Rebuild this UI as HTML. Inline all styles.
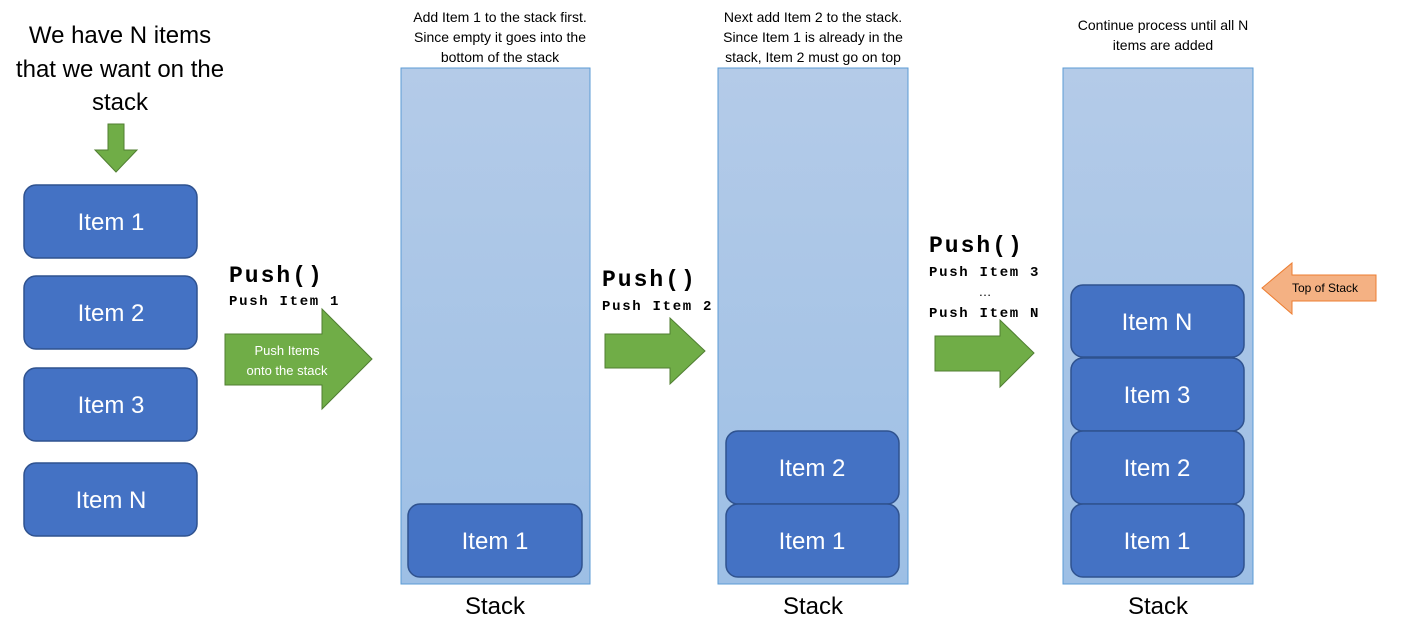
<!DOCTYPE html>
<html><head><meta charset="utf-8"><style>
html,body{margin:0;padding:0;background:#fff;width:1425px;height:639px;overflow:hidden}
svg{display:block}
.t{font-family:"Liberation Sans",sans-serif}
.m{font-family:"Liberation Mono",monospace;font-weight:bold}
.big{letter-spacing:2px}
.sm{letter-spacing:1.7px}
</style></head><body>
<svg width="1425" height="639" viewBox="0 0 1425 639" xmlns="http://www.w3.org/2000/svg">
<defs>
<linearGradient id="sg" x1="0" y1="0" x2="0" y2="1"><stop offset="0" stop-color="#b4cbe8"/><stop offset="1" stop-color="#9dbfe5"/></linearGradient>
</defs>
<g class="t" font-size="24" fill="#000" text-anchor="middle">
<text x="120" y="43">We have N items</text>
<text x="120" y="77">that we want on the</text>
<text x="120" y="110">stack</text>
</g>
<path d="M108,124 H124 V150 H137 L116,172 L95,150 H108 Z" fill="#70ad47" stroke="#507e32"/>
<g>
<g><rect x="24" y="185" width="173" height="73" rx="12" fill="#4472c4" stroke="#2f528f" stroke-width="1.5"/><text class="t" x="111" y="230" font-size="24" fill="#fff" text-anchor="middle">Item 1</text></g>
<g><rect x="24" y="276" width="173" height="73" rx="12" fill="#4472c4" stroke="#2f528f" stroke-width="1.5"/><text class="t" x="111" y="321" font-size="24" fill="#fff" text-anchor="middle">Item 2</text></g>
<g><rect x="24" y="368" width="173" height="73" rx="12" fill="#4472c4" stroke="#2f528f" stroke-width="1.5"/><text class="t" x="111" y="413" font-size="24" fill="#fff" text-anchor="middle">Item 3</text></g>
<g><rect x="24" y="463" width="173" height="73" rx="12" fill="#4472c4" stroke="#2f528f" stroke-width="1.5"/><text class="t" x="111" y="508" font-size="24" fill="#fff" text-anchor="middle">Item N</text></g>
</g>
<g><text class="m big" x="229" y="282" font-size="23">Push()</text><text class="m sm" x="229" y="305" font-size="14">Push Item 1</text></g>
<g><path d="M225,334 H322 V309 L372,359 L322,409 V385 H225 Z" fill="#70ad47" stroke="#507e32"/>
<text class="t" x="287" y="355" font-size="13" fill="#fff" text-anchor="middle">Push Items</text><text class="t" x="287" y="375" font-size="13" fill="#fff" text-anchor="middle">onto the stack</text></g>
<g class="t" font-size="14" text-anchor="middle"><text x="500" y="22">Add Item 1 to the stack first.</text><text x="500" y="42">Since empty it goes into the</text><text x="500" y="62">bottom of the stack</text></g>
<g><rect x="401" y="68" width="189" height="516" fill="url(#sg)" stroke="#5b9bd5"/>
<g><rect x="408" y="504" width="174" height="73" rx="12" fill="#4472c4" stroke="#2f528f" stroke-width="1.5"/><text class="t" x="495" y="549" font-size="24" fill="#fff" text-anchor="middle">Item 1</text></g>
<text class="t" x="495" y="614" font-size="24" text-anchor="middle">Stack</text></g>
<g><text class="m big" x="602" y="286" font-size="23">Push()</text><text class="m sm" x="602" y="310" font-size="14">Push Item 2</text></g>
<path d="M605,334 H670 V318 L705,351 L670,384 V368 H605 Z" fill="#70ad47" stroke="#507e32"/>
<g class="t" font-size="14" text-anchor="middle"><text x="813" y="22">Next add Item 2 to the stack.</text><text x="813" y="42">Since Item 1 is already in the</text><text x="813" y="62">stack, Item 2 must go on top</text></g>
<g><rect x="718" y="68" width="190" height="516" fill="url(#sg)" stroke="#5b9bd5"/>
<g><rect x="726" y="431" width="173" height="73" rx="12" fill="#4472c4" stroke="#2f528f" stroke-width="1.5"/><text class="t" x="812" y="476" font-size="24" fill="#fff" text-anchor="middle">Item 2</text></g>
<g><rect x="726" y="504" width="173" height="73" rx="12" fill="#4472c4" stroke="#2f528f" stroke-width="1.5"/><text class="t" x="812" y="549" font-size="24" fill="#fff" text-anchor="middle">Item 1</text></g>
<text class="t" x="813" y="614" font-size="24" text-anchor="middle">Stack</text></g>
<g><text class="m big" x="929" y="252" font-size="23">Push()</text><text class="m sm" x="929" y="276" font-size="14">Push Item 3</text>
<text class="t" x="985" y="296" font-size="13" text-anchor="middle">…</text><text class="m sm" x="929" y="317" font-size="14">Push Item N</text></g>
<path d="M935,336 H1000 V320 L1034,353 L1000,387 V371 H935 Z" fill="#70ad47" stroke="#507e32"/>
<g class="t" font-size="14" text-anchor="middle"><text x="1163" y="30">Continue process until all N</text><text x="1163" y="50">items are added</text></g>
<g><rect x="1063" y="68" width="190" height="516" fill="url(#sg)" stroke="#5b9bd5"/>
<g><rect x="1071" y="285" width="173" height="72" rx="12" fill="#4472c4" stroke="#2f528f" stroke-width="1.5"/><text class="t" x="1157" y="330" font-size="24" fill="#fff" text-anchor="middle">Item N</text></g>
<g><rect x="1071" y="358" width="173" height="73" rx="12" fill="#4472c4" stroke="#2f528f" stroke-width="1.5"/><text class="t" x="1157" y="403" font-size="24" fill="#fff" text-anchor="middle">Item 3</text></g>
<g><rect x="1071" y="431" width="173" height="73" rx="12" fill="#4472c4" stroke="#2f528f" stroke-width="1.5"/><text class="t" x="1157" y="476" font-size="24" fill="#fff" text-anchor="middle">Item 2</text></g>
<g><rect x="1071" y="504" width="173" height="73" rx="12" fill="#4472c4" stroke="#2f528f" stroke-width="1.5"/><text class="t" x="1157" y="549" font-size="24" fill="#fff" text-anchor="middle">Item 1</text></g>
<text class="t" x="1158" y="614" font-size="24" text-anchor="middle">Stack</text></g>
<g><path d="M1262,288 L1292,263 V275 H1376 V301 H1292 V314 Z" fill="#f4b183" stroke="#ed7d31"/>
<text class="t" x="1325" y="292" font-size="12" text-anchor="middle">Top of Stack</text></g>
</svg>
</body></html>
